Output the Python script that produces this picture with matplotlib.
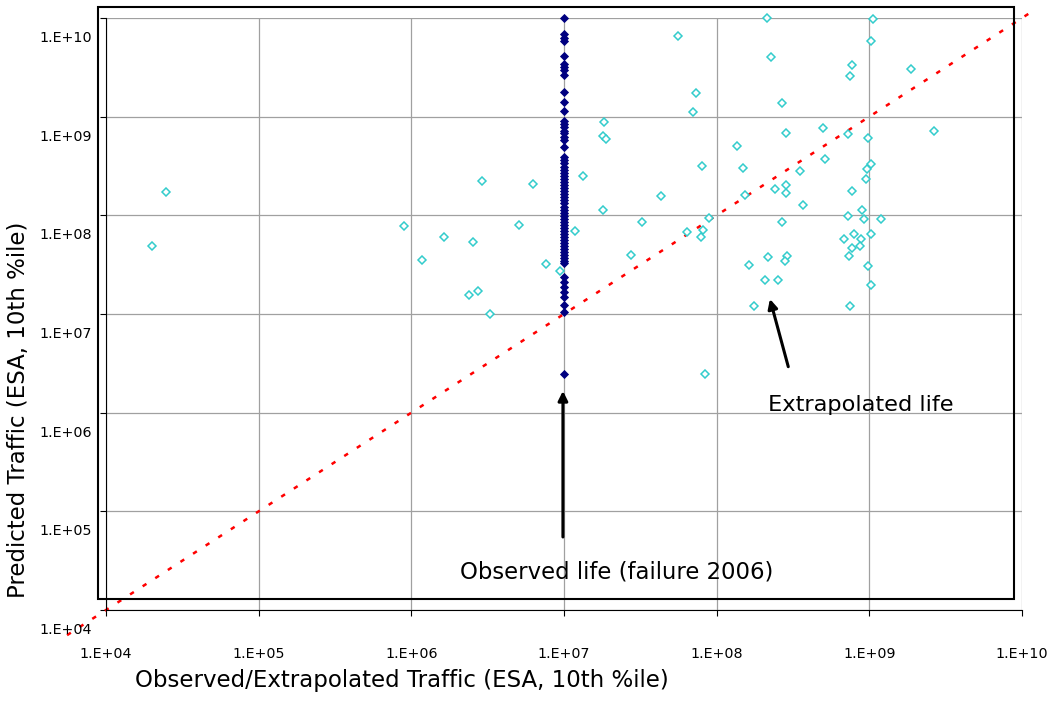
import numpy as np
import matplotlib
matplotlib.use("Agg")
import matplotlib.pyplot as plt
from matplotlib.patches import Rectangle
from matplotlib.transforms import offset_copy
from matplotlib.ticker import FixedLocator, NullLocator, NullFormatter

# observed life points (failure 2006), all at 1e7 observed ESA; values as log10
observed_x = 1e7
observed_logy = [10.00, 9.835, 9.80, 9.767, 9.61, 9.534, 9.506, 9.473, 9.422, 9.253,
                 9.152, 9.06, 8.959, 8.926, 8.892, 8.858, 8.831, 8.797, 8.764, 8.696,
                 8.594, 8.561, 8.527, 8.493, 8.46, 8.43, 8.40, 8.37, 8.34, 8.31, 8.28,
                 8.25, 8.22, 8.19, 8.16, 8.125, 8.085, 8.054, 8.02, 7.99, 7.96, 7.93,
                 7.90, 7.87, 7.84, 7.81, 7.78, 7.75, 7.72, 7.69, 7.66, 7.63, 7.60,
                 7.57, 7.54, 7.52, 7.375, 7.325, 7.274, 7.223, 7.172, 7.09, 7.02, 6.392]

# extrapolated life points (log10 observed, log10 predicted)
extrap_logx = [4.391, 4.299, 5.952, 6.212, 6.402, 6.07, 6.376, 6.435, 6.517, 6.708,
               7.749, 7.867, 7.847, 7.264, 7.253, 7.273, 7.907, 6.461, 6.799, 7.122,
               7.635, 7.253, 7.511, 7.074, 7.951, 7.808, 7.912, 7.899, 7.437, 6.882,
               6.974, 8.33, 9.026, 9.009, 8.356, 8.886, 8.875, 9.271, 8.43, 8.454,
               8.694, 8.86, 8.993, 9.421, 8.133, 8.172, 8.71, 8.546, 9.009, 8.985,
               8.976, 8.454, 8.382, 8.454, 8.183, 8.886, 8.563, 8.952, 8.86, 8.967,
               9.074, 8.43, 8.834, 8.899, 8.943, 9.009, 8.886, 8.937, 8.869, 8.338,
               8.463, 8.448, 8.214, 8.993, 8.314, 8.404, 9.009, 8.246, 8.875, 7.923]
extrap_logy = [8.233, 7.686, 7.892, 7.777, 7.727, 7.55, 7.196, 7.233, 7.005, 7.902,
               9.821, 9.243, 9.05, 8.949, 8.804, 8.771, 8.497, 8.345, 8.318, 8.396,
               8.196, 8.054, 7.929, 7.838, 7.976, 7.828, 7.851, 7.777, 7.595, 7.51,
               7.436, 10.0, 9.987, 9.77, 9.608, 9.521, 9.415, 9.48, 9.142, 8.834,
               8.888, 8.824, 8.787, 8.852, 8.7, 8.483, 8.571, 8.446, 8.523, 8.47,
               8.368, 8.307, 8.27, 8.229, 8.206, 8.244, 8.105, 8.054, 7.993, 7.963,
               7.966, 7.929, 7.763, 7.814, 7.763, 7.814, 7.666, 7.686, 7.588, 7.578,
               7.588, 7.537, 7.497, 7.487, 7.348, 7.348, 7.297, 7.084, 7.084, 6.392]

ticks = [1e4, 1e5, 1e6, 1e7, 1e8, 1e9, 1e10]
tick_labels = ["1.E+04", "1.E+05", "1.E+06", "1.E+07", "1.E+08", "1.E+09", "1.E+10"]
line_ends = [10 ** 3.745, 10 ** 10.07]

fig = plt.figure(figsize=(10.54, 7.01), dpi=100)
ax = fig.add_axes([106 / 1054, 1 - 610 / 701, 916 / 1054, 592 / 701])
ax.set_xscale("log")
ax.set_yscale("log")
ax.set_xlim(1e4, 1e10)
ax.set_ylim(1e4, 1e10)

ax.xaxis.set_major_locator(FixedLocator(ticks))
ax.yaxis.set_major_locator(FixedLocator(ticks))
ax.xaxis.set_minor_locator(NullLocator())
ax.yaxis.set_minor_locator(NullLocator())
ax.xaxis.set_major_formatter(NullFormatter())
ax.yaxis.set_major_formatter(NullFormatter())
ax.tick_params(direction="out", length=4.3, width=0.8, color="black")
ax.grid(True, color="#a0a0a0", lw=0.9)
ax.set_axisbelow(True)
for s in ["top", "right"]:
    ax.spines[s].set_visible(False)
for s in ["left", "bottom"]:
    ax.spines[s].set_linewidth(0.8)

# tick labels, shifted like the original
ytr = offset_copy(ax.get_yaxis_transform(), fig=fig, x=-14, y=-20, units="dots")
xtr = offset_copy(ax.get_xaxis_transform(), fig=fig, x=0, y=-44, units="dots")
for t, lab in zip(ticks, tick_labels):
    ax.text(0, t, lab, transform=ytr, ha="right", va="center", fontsize=10.3)
    ax.text(t, 0, lab, transform=xtr, ha="center", va="center", fontsize=10.3)

# 1:1 line
ax.plot(line_ends, line_ends, color="red", lw=1.8, dashes=(1.8, 4.2), clip_on=False, zorder=2)

ax.plot(10 ** np.array(extrap_logx), 10 ** np.array(extrap_logy), "D", ms=3.8,
        mfc="white", mec="#33cccc", mew=1.1, ls="none", zorder=3, clip_on=False)
ax.plot(np.full(len(observed_logy), observed_x), 10 ** np.array(observed_logy), "D",
        ms=4.5, mfc="#000080", mec="#000080", mew=0.6, ls="none", zorder=4, clip_on=False)

arrow = dict(arrowstyle="-|>", color="black", lw=2.2, mutation_scale=14, shrinkA=0, shrinkB=0)
ax.annotate("", xy=(10 ** 6.993, 10 ** 6.22), xytext=(10 ** 6.993, 10 ** 4.74), arrowprops=arrow)
ax.annotate("", xy=(10 ** 8.349, 10 ** 7.152), xytext=(10 ** 8.469, 10 ** 6.466), arrowprops=arrow)
ax.text(10 ** 6.319, 10 ** 4.385, "Observed life (failure 2006)", fontsize=16.4, va="center", ha="left")
ax.text(10 ** 8.336, 10 ** 6.078, "Extrapolated life", fontsize=16.2, va="center", ha="left")

# outer plot-area frame (offset from the axes, as in the source chart)
fig.patches.append(Rectangle((98 / 1054, 1 - 599 / 701), 916 / 1054, 592 / 701,
                             transform=fig.transFigure, fill=False, ec="black", lw=1.5, zorder=5))

fig.text(402 / 1054, 1 - 680 / 701, "Observed/Extrapolated Traffic (ESA, 10th %ile)",
         ha="center", va="center", fontsize=16.5)
fig.text(19 / 1054, 1 - 410 / 701, "Predicted Traffic (ESA, 10th %ile)",
         ha="center", va="center", rotation=90, fontsize=16.5)

fig.savefig("out.png", dpi=100)
